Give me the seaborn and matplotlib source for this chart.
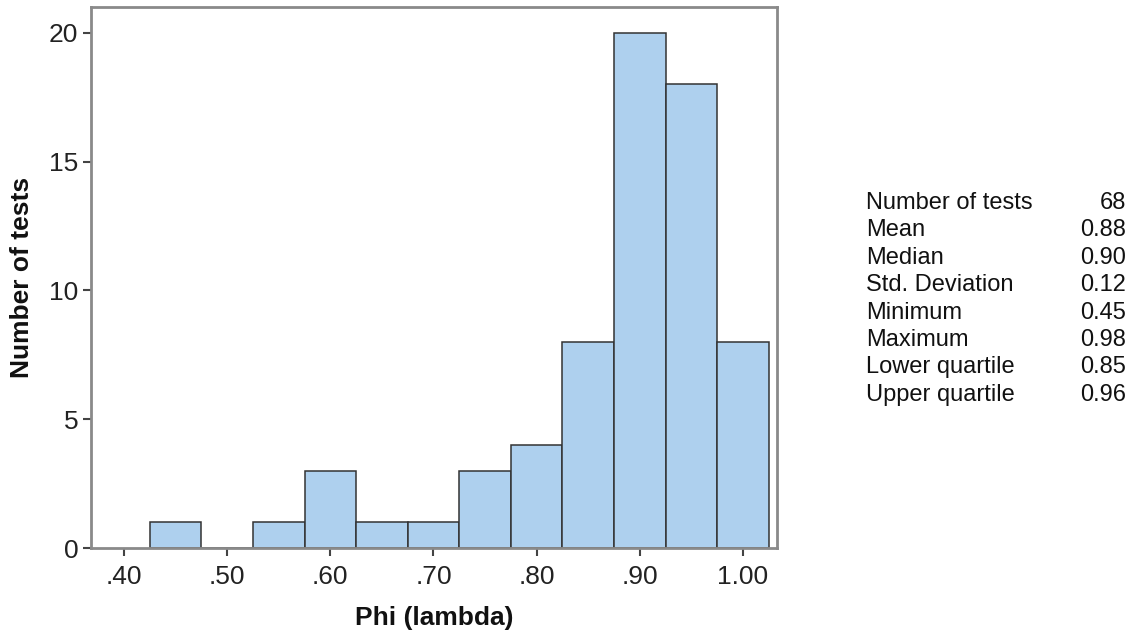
import numpy as np
import matplotlib
matplotlib.use("Agg")
import matplotlib.pyplot as plt
import seaborn as sns

# histogram bins (centre of each 0.05-wide bin) and counts
bin_centres = [0.45, 0.50, 0.55, 0.60, 0.65, 0.70, 0.75, 0.80, 0.85, 0.90, 0.95, 1.00]
counts = [1, 0, 1, 3, 1, 1, 3, 4, 8, 20, 18, 8]

x_ticks = [0.40, 0.50, 0.60, 0.70, 0.80, 0.90, 1.00]
x_ticklabels = [".40", ".50", ".60", ".70", ".80", ".90", "1.00"]
y_ticks = [0, 5, 10, 15, 20]

stat_names = ["Number of tests", "Mean", "Median", "Std. Deviation",
              "Minimum", "Maximum", "Lower quartile", "Upper quartile"]
stat_values = ["68", "0.88", "0.90", "0.12", "0.45", "0.98", "0.85", "0.96"]

sns.set_theme(style="white")
plt.rcParams['font.family'] = ['Liberation Sans', 'DejaVu Sans']

fig = plt.figure(figsize=(11.34, 6.38), dpi=100)
ax = fig.add_axes([91 / 1134, 1 - 548 / 638, 686 / 1134, 541 / 638])

sns.histplot(x=bin_centres, weights=counts, binwidth=0.05, binrange=(0.425, 1.025),
             color="#aed0ee", edgecolor="#333333", linewidth=1.1, alpha=1, ax=ax)

ax.set_xlim(0.368, 1.033)
ax.set_ylim(0, 21)
ax.set_xticks(x_ticks)
ax.set_xticklabels(x_ticklabels)
ax.set_yticks(y_ticks)

for s in ax.spines.values():
    s.set_color("#8a8a8a")
    s.set_linewidth(2)
ax.tick_params(axis="both", which="major", direction="out", length=6, width=1.5,
               color="#444444", labelsize=19, labelcolor="#222222", pad=3)
ax.tick_params(axis="x", pad=6)
ax.tick_params(bottom=True, left=True)

ax.set_xlabel("Phi (lambda)", fontsize=19, fontweight="bold", color="#111111")
ax.set_ylabel("Number of tests", fontsize=19, fontweight="bold", color="#111111")
ax.xaxis.set_label_coords(0.5, -0.108)
ax.yaxis.set_label_coords(-0.083, 0.5)

# summary table on the right
for i, (name, val) in enumerate(zip(stat_names, stat_values)):
    y = 1 - (203 + 27.4 * i) / 638
    fig.text(866 / 1134, y, name, ha="left", va="center", fontsize=17, color="#111111")
    fig.text(1126 / 1134, y, val, ha="right", va="center", fontsize=17, color="#111111")

fig.savefig("out.png", dpi=100, facecolor="white")
